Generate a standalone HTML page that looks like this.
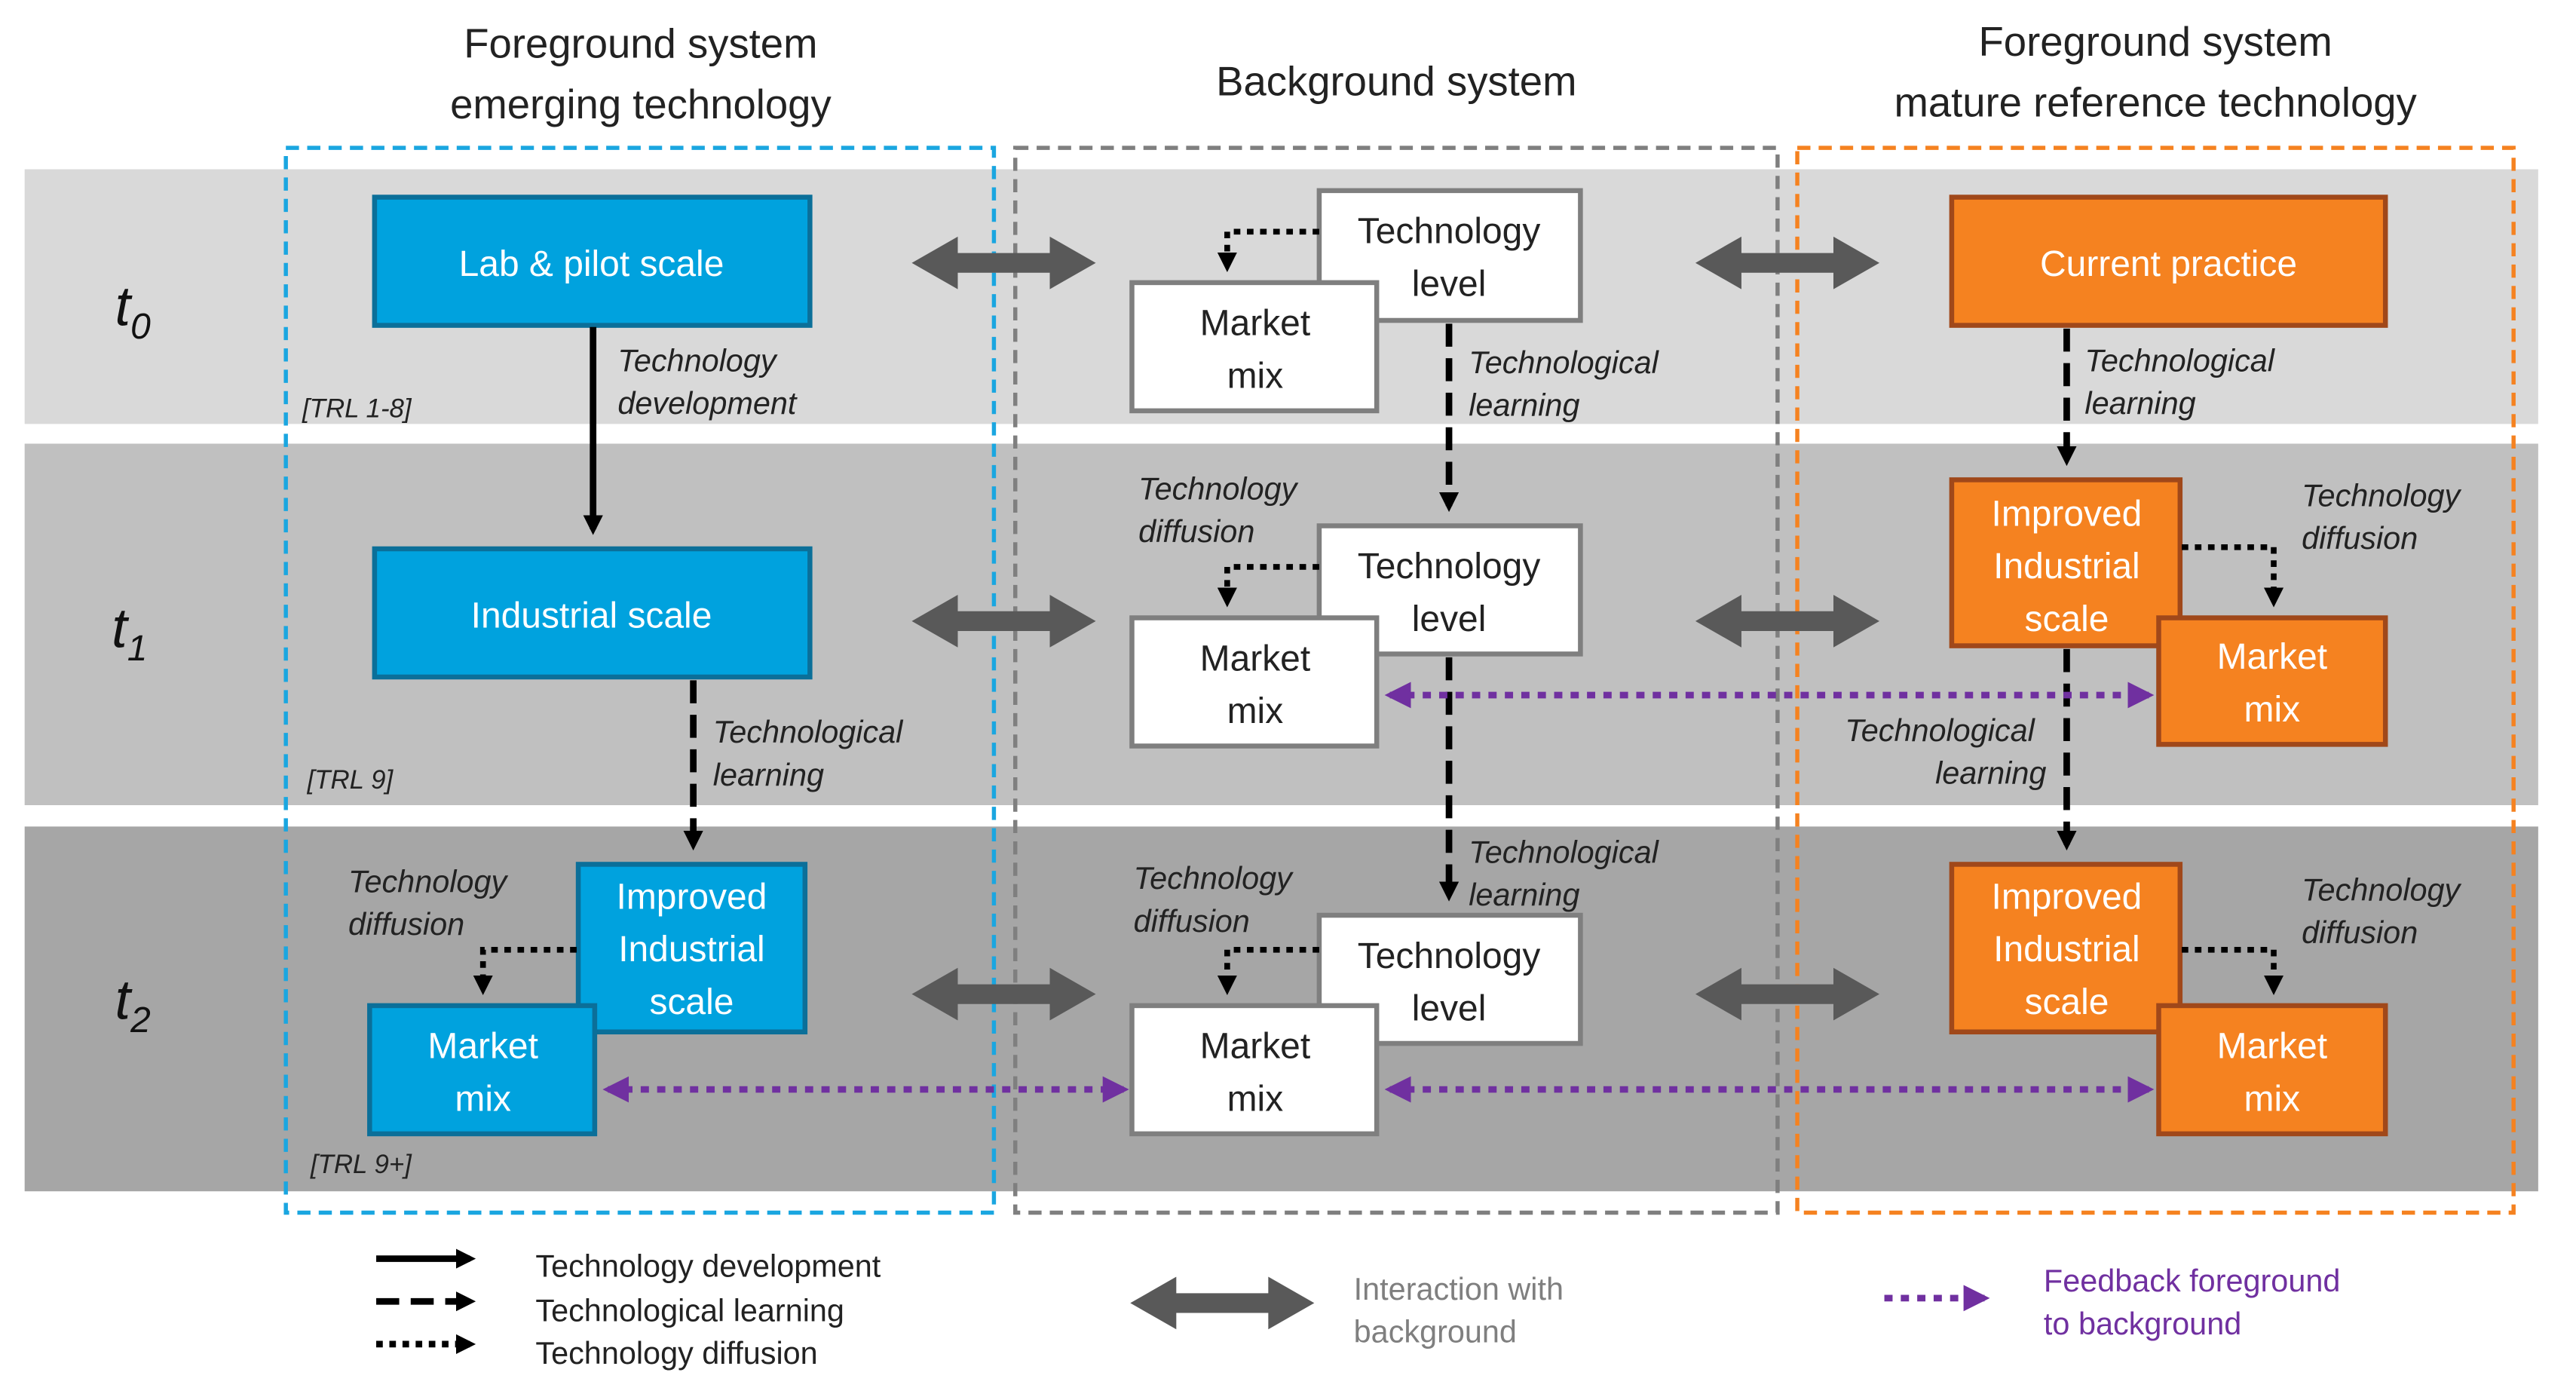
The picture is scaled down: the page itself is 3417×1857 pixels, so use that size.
<!DOCTYPE html>
<html><head><meta charset="utf-8"><style>
html,body{margin:0;padding:0;background:#fff;}
svg{display:block;}
text{font-family:"Liberation Sans",sans-serif;}
</style></head><body>
<svg width="3417" height="1857" viewBox="0 0 1568 852" xmlns="http://www.w3.org/2000/svg" preserveAspectRatio="none">
<defs>
<marker id="ahb" viewBox="0 0 10 10" markerWidth="12" markerHeight="12" refX="7" refY="5" orient="auto" markerUnits="userSpaceOnUse"><path d="M0,0 L10,5 L0,10 z" fill="#000"/></marker>
<marker id="ap" viewBox="0 0 10 10" markerWidth="16" markerHeight="16" refX="8" refY="5" orient="auto-start-reverse" markerUnits="userSpaceOnUse"><path d="M0,0 L10,5 L0,10 z" fill="#7030a0"/></marker>
<g id="dbl"><path d="M0,0 l28,-16 v10 h56 v-10 l28,16 l-28,16 v-10 h-56 v10 z" fill="#595959"/></g>
</defs>
<rect x="15" y="103" width="1530" height="155" fill="#d9d9d9"/>
<rect x="15" y="270" width="1530" height="220" fill="#c0c0c0"/>
<rect x="15" y="503" width="1530" height="222" fill="#a6a6a6"/>
<g font-size="25" fill="#222" text-anchor="middle">
<text x="390" y="35">Foreground system</text>
<text x="390" y="72">emerging technology</text>
<text x="850" y="58">Background system</text>
<text x="1312" y="34">Foreground system</text>
<text x="1312" y="71">mature reference technology</text>
</g>
<g font-size="34" font-style="italic" fill="#111">
<text x="70" y="198">t<tspan font-size="22" dy="8">0</tspan></text>
<text x="68" y="394">t<tspan font-size="22" dy="8">1</tspan></text>
<text x="70" y="620">t<tspan font-size="22" dy="8">2</tspan></text>
</g>
<rect x="174" y="90" width="431" height="648" fill="none" stroke="#1aa6e0" stroke-width="2.5" stroke-dasharray="8,5"/>
<rect x="618" y="90" width="464" height="648" fill="none" stroke="#7f7f7f" stroke-width="2.5" stroke-dasharray="8,5"/>
<rect x="1094" y="90" width="436" height="648" fill="none" stroke="#f58220" stroke-width="2.5" stroke-dasharray="8,5"/>
<g fill="#00a2de" stroke="#0b6f99" stroke-width="3">
<rect x="228" y="120" width="265" height="78"/>
<rect x="228" y="334" width="265" height="78"/>
<rect x="352" y="526" width="138" height="102"/>
<rect x="225" y="612" width="137" height="78"/>
</g>
<g fill="#f58220" stroke="#a0481a" stroke-width="3">
<rect x="1188" y="120" width="264" height="78"/>
<rect x="1188" y="292" width="139" height="101"/>
<rect x="1314" y="376" width="138" height="77"/>
<rect x="1188" y="526" width="139" height="102"/>
<rect x="1314" y="612" width="138" height="78"/>
</g>
<g fill="#fff" stroke="#7f7f7f" stroke-width="3">
<rect x="803" y="116" width="159" height="79"/>
<rect x="689" y="172" width="149" height="78"/>
<rect x="803" y="320" width="159" height="78"/>
<rect x="689" y="376" width="149" height="78"/>
<rect x="803" y="557" width="159" height="78"/>
<rect x="689" y="612" width="149" height="78"/>
</g>
<g font-size="22" fill="#fff" text-anchor="middle">
<text x="360" y="168">Lab &amp; pilot scale</text>
<text x="360" y="382">Industrial scale</text>
<text x="421" y="553">Improved</text><text x="421" y="585">Industrial</text><text x="421" y="617">scale</text>
<text x="294" y="644">Market</text><text x="294" y="676">mix</text>
<text x="1320" y="168">Current practice</text>
<text x="1258" y="320">Improved</text><text x="1258" y="352">Industrial</text><text x="1258" y="384">scale</text>
<text x="1383" y="407">Market</text><text x="1383" y="439">mix</text>
<text x="1258" y="553">Improved</text><text x="1258" y="585">Industrial</text><text x="1258" y="617">scale</text>
<text x="1383" y="644">Market</text><text x="1383" y="676">mix</text>
</g>
<g font-size="22" fill="#222" text-anchor="middle">
<text x="882" y="148">Technology</text><text x="882" y="180">level</text>
<text x="764" y="204">Market</text><text x="764" y="236">mix</text>
<text x="882" y="352">Technology</text><text x="882" y="384">level</text>
<text x="764" y="408">Market</text><text x="764" y="440">mix</text>
<text x="882" y="589">Technology</text><text x="882" y="621">level</text>
<text x="764" y="644">Market</text><text x="764" y="676">mix</text>
</g>
<use href="#dbl" x="555" y="160"/><use href="#dbl" x="555" y="378"/><use href="#dbl" x="555" y="605"/>
<use href="#dbl" x="1032" y="160"/><use href="#dbl" x="1032" y="378"/><use href="#dbl" x="1032" y="605"/>
<g stroke="#000" stroke-width="4" fill="none">
<line x1="361" y1="199" x2="361" y2="322" marker-end="url(#ahb)"/>
<line x1="422" y1="414" x2="422" y2="514" stroke-dasharray="14,7" marker-end="url(#ahb)"/>
<line x1="882" y1="197" x2="882" y2="308" stroke-dasharray="14,7" marker-end="url(#ahb)"/>
<line x1="882" y1="400" x2="882" y2="545" stroke-dasharray="14,7" marker-end="url(#ahb)"/>
<line x1="1258" y1="200" x2="1258" y2="280" stroke-dasharray="14,7" marker-end="url(#ahb)"/>
<line x1="1258" y1="395" x2="1258" y2="514" stroke-dasharray="14,7" marker-end="url(#ahb)"/>
<g stroke-dasharray="4,4" stroke-width="3.5">
<polyline points="803,141 747,141 747,162" marker-end="url(#ahb)"/>
<polyline points="803,345 747,345 747,366" marker-end="url(#ahb)"/>
<polyline points="803,578 747,578 747,602" marker-end="url(#ahb)"/>
<polyline points="351,578 294,578 294,602" marker-end="url(#ahb)"/>
<polyline points="1328,333 1384,333 1384,366" marker-end="url(#ahb)"/>
<polyline points="1328,578 1384,578 1384,602" marker-end="url(#ahb)"/>
</g>
</g>
<g stroke="#7030a0" stroke-width="4" stroke-dasharray="5,5" fill="none">
<line x1="846" y1="423" x2="1308" y2="423" marker-start="url(#ap)" marker-end="url(#ap)"/>
<line x1="370" y1="663" x2="684" y2="663" marker-start="url(#ap)" marker-end="url(#ap)"/>
<line x1="846" y1="663" x2="1308" y2="663" marker-start="url(#ap)" marker-end="url(#ap)"/>
</g>
<g font-size="19" font-style="italic" fill="#222">
<text x="376" y="226">Technology</text><text x="376" y="252">development</text>
<text x="184" y="254" font-size="16">[TRL 1-8]</text>
<text x="434" y="452">Technological</text><text x="434" y="478">learning</text>
<text x="187" y="480" font-size="16">[TRL 9]</text>
<text x="212" y="543">Technology</text><text x="212" y="569">diffusion</text>
<text x="189" y="714" font-size="16">[TRL 9+]</text>
<text x="894" y="227">Technological</text><text x="894" y="253">learning</text>
<text x="693" y="304">Technology</text><text x="693" y="330">diffusion</text>
<text x="894" y="525">Technological</text><text x="894" y="551">learning</text>
<text x="690" y="541">Technology</text><text x="690" y="567">diffusion</text>
<text x="1269" y="226">Technological</text><text x="1269" y="252">learning</text>
<text x="1401" y="308">Technology</text><text x="1401" y="334">diffusion</text>
<text x="1123" y="451">Technological</text><text x="1178" y="477">learning</text>
<text x="1401" y="548">Technology</text><text x="1401" y="574">diffusion</text>
</g>
<g stroke="#000" stroke-width="4" fill="none">
<line x1="229" y1="766" x2="286" y2="766" marker-end="url(#ahb)"/>
<line x1="229" y1="792" x2="286" y2="792" stroke-dasharray="14,7" marker-end="url(#ahb)"/>
<line x1="229" y1="818" x2="286" y2="818" stroke-dasharray="4,4" marker-end="url(#ahb)"/>
</g>
<g font-size="19" fill="#222">
<text x="326" y="777">Technology development</text>
<text x="326" y="804">Technological learning</text>
<text x="326" y="830">Technology diffusion</text>
</g>
<use href="#dbl" x="688" y="793"/>
<g font-size="19" fill="#7f7f7f"><text x="824" y="791">Interaction with</text><text x="824" y="817">background</text></g>
<line x1="1147" y1="790" x2="1208" y2="790" stroke="#7030a0" stroke-width="4" stroke-dasharray="5,5" marker-end="url(#ap)"/>
<g font-size="19" fill="#7030a0"><text x="1244" y="786">Feedback foreground</text><text x="1244" y="812">to background</text></g>
</svg>
</body></html>
